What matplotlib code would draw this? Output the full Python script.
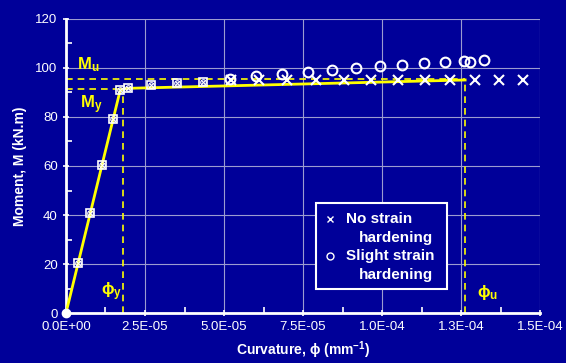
import numpy as np
import matplotlib
matplotlib.use("Agg")
import matplotlib.pyplot as plt
from matplotlib.ticker import MultipleLocator, FixedLocator
from matplotlib.patches import Rectangle

plt.rcParams['font.family'] = ['Liberation Sans', 'DejaVu Sans']
plt.rcParams['mathtext.fontset'] = 'custom'
plt.rcParams['mathtext.rm'] = 'Liberation Sans:bold'
plt.rcParams['mathtext.it'] = 'Liberation Sans:bold'
plt.rcParams['mathtext.bf'] = 'Liberation Sans:bold'

BG = '#000099'
YEL = '#ffff00'
GRID = '#9c9cd0'

# shared points on the elastic branch (both analyses coincide)
rise_phi = [0.0, 3.9e-6, 7.6e-6, 1.13e-5, 1.49e-5, 1.72e-5, 1.95e-5, 2.69e-5, 3.5e-5, 4.35e-5]
rise_m = [0.0, 20.5, 40.7, 60.4, 79.0, 91.0, 91.7, 93.0, 94.0, 94.4]

# no strain hardening
nsh_phi = [5.21e-5, 6.11e-5, 7.0e-5, 7.9e-5, 8.8e-5, 9.65e-5, 1.052e-4, 1.136e-4,
           1.215e-4, 1.294e-4, 1.371e-4, 1.445e-4]
nsh_m = [94.9, 95.0, 95.1, 95.2, 95.2, 95.3, 95.3, 95.3, 95.3, 95.3, 95.3, 95.3]

# slight strain hardening
ssh_phi = [5.19e-5, 6.01e-5, 6.84e-5, 7.65e-5, 8.43e-5, 9.19e-5, 9.93e-5, 1.063e-4,
           1.132e-4, 1.198e-4, 1.260e-4, 1.279e-4, 1.322e-4]
ssh_m = [95.6, 96.7, 97.7, 98.5, 99.2, 100.1, 100.8, 101.3, 101.9, 102.4, 102.9, 102.6, 103.4]

# idealised bilinear curve
bi_phi = [0.0, 1.72e-5, 1.95e-5, 1.263e-4]
bi_m = [0.0, 91.2, 91.7, 95.1]

phi_y, m_y = 1.795e-5, 91.4
phi_u, m_u = 1.263e-4, 95.7

xticks = [0.0, 2.5e-5, 5.0e-5, 7.5e-5, 1.0e-4, 1.25e-4, 1.5e-4]
xticklabels = ['0.0E+00', '2.5E-05', '5.0E-05', '7.5E-05', '1.0E-04', '1.3E-04', '1.5E-04']

legend_labels = [('No strain', 'hardening'), ('Slight strain', 'hardening')]
legend_markers = ['x', 'o']

fig = plt.figure(figsize=(5.66, 3.63), dpi=100, facecolor=BG)
ax = fig.add_axes([0.1166, 0.1377, 0.8375, 0.81])
ax.set_facecolor(BG)

ax.set_xlim(0, 1.5e-4)
ax.set_ylim(0, 120)
ax.xaxis.set_major_locator(FixedLocator(xticks))
ax.set_xticklabels(xticklabels)
ax.xaxis.set_minor_locator(MultipleLocator(1.25e-5))
ax.yaxis.set_major_locator(MultipleLocator(20))
ax.yaxis.set_minor_locator(MultipleLocator(10))
ax.grid(True, which='major', color=GRID, lw=0.8)
ax.set_axisbelow(True)

for s in ['top', 'right']:
    ax.spines[s].set_visible(False)
for s in ['left', 'bottom']:
    ax.spines[s].set_color('white')
    ax.spines[s].set_linewidth(2)
ax.tick_params(which='major', direction='inout', length=5, width=1.2, colors='white',
               labelsize=9.5, labelcolor='white')
ax.tick_params(which='minor', direction='in', length=4, width=1.2, colors='white')

# dashed reference lines
dash = dict(color=YEL, ls=(0, (4, 3)), lw=1.2, zorder=2)
ax.plot([0, phi_y], [m_y, m_y], **dash)
ax.plot([phi_y, phi_y], [0, m_y], **dash)
ax.plot([0, phi_u], [m_u, m_u], **dash)
ax.plot([phi_u, phi_u], [0, 95.0], **dash)

ax.plot(bi_phi, bi_m, color=YEL, lw=2, zorder=3)

# elastic branch markers
ax.plot(rise_phi[1:], rise_m[1:], ls='none', marker='s', ms=6, mfc='none', mec='white', mew=1.2, zorder=4)
ax.plot(rise_phi[1:], rise_m[1:], ls='none', marker='o', ms=4, mfc='none', mec='white', mew=0.8, zorder=4)
ax.plot(rise_phi[1:], rise_m[1:], ls='none', marker='x', ms=3, mec='white', mew=0.8, zorder=4)
ax.plot([0], [0], ls='none', marker='o', ms=6, color='white', zorder=5, clip_on=False)

ax.plot(nsh_phi, nsh_m, ls='none', marker='x', ms=7, mec='white', mew=1.5, zorder=4)
ax.plot(ssh_phi, ssh_m, ls='none', marker='o', ms=7, mfc='none', mec='white', mew=1.5, zorder=4)

# annotations
ax.text(3.5e-6, 101.5, r'M$_{\mathregular{u}}$', color=YEL, fontsize=12, fontweight='bold', va='center')
ax.text(4.3e-6, 85.0, r'M$_{\mathregular{y}}$', color=YEL, fontsize=12, fontweight='bold', va='center')
ax.text(1.1e-5, 8.5, r'ϕ$_{\mathregular{y}}$', color=YEL, fontsize=12, fontweight='bold', va='center')
ax.text(1.3e-4, 8.5, r'ϕ$_{\mathregular{u}}$', color=YEL, fontsize=12, fontweight='bold', va='center')

ax.set_xlabel(r'Curvature, ϕ (mm$^{-1}$)', color='white', fontsize=10, fontweight='bold', labelpad=4)
ax.set_ylabel('Moment, M (kN.m)', color='white', fontsize=10, fontweight='bold', labelpad=6)

# legend box drawn by hand so the marker sits on the first line of each entry
ax.add_patch(Rectangle((0.527, 0.082), 0.277, 0.292, transform=ax.transAxes,
                       facecolor=BG, edgecolor='white', lw=1.5, zorder=6))
row_y = [0.320, 0.256, 0.195, 0.129]
for i, ((l1, l2), mk) in enumerate(zip(legend_labels, legend_markers)):
    y1, y2 = row_y[2 * i], row_y[2 * i + 1]
    ax.plot([0.557], [y1], transform=ax.transAxes, ls='none', marker=mk, ms=5,
            mfc='none', mec='white', mew=1.0, zorder=7)
    ax.text(0.590, y1, l1, transform=ax.transAxes, color='white', fontsize=11,
            fontweight='bold', va='center', zorder=7)
    ax.text(0.618, y2, l2, transform=ax.transAxes, color='white', fontsize=11,
            fontweight='bold', va='center', zorder=7)

fig.savefig('out.png', dpi=100, facecolor=BG)
